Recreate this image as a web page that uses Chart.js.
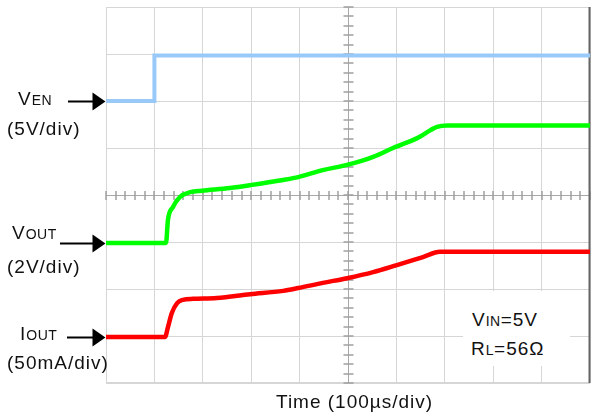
<!DOCTYPE html>
<html><head><meta charset="utf-8">
<script src="https://cdn.jsdelivr.net/npm/chart.js@4/dist/chart.umd.min.js"></script>
<style>
html,body{margin:0;padding:0;background:#fff;}
#wrap{position:relative;width:592px;height:419px;overflow:hidden;}
canvas{position:absolute;left:0;top:0;}
.t{position:absolute;font-family:"Liberation Sans",Arial,sans-serif;font-size:19px;line-height:19px;color:#111;letter-spacing:1px;white-space:nowrap;}
.sc{font-size:14px;letter-spacing:0.5px;}
#note{position:absolute;left:463px;top:291px;width:107px;height:75px;background:#fff;}
</style></head>
<body>
<div id="wrap">
<canvas id="c" width="592" height="419"></canvas>
<div id="note"></div>
<div class="t" style="left:18px;top:89px;">V<span class="sc">EN</span></div>
<div class="t" style="left:7px;top:119px;">(5V/div)</div>
<div class="t" style="left:12px;top:223px;">V<span class="sc">OUT</span></div>
<div class="t" style="left:7px;top:257px;">(2V/div)</div>
<div class="t" style="left:20px;top:324px;">I<span class="sc">OUT</span></div>
<div class="t" style="left:7px;top:353px;">(50mA/div)</div>
<div class="t" style="left:472px;top:310px;">V<span class="sc">IN</span>=5V</div>
<div class="t" style="left:471px;top:339px;">R<span class="sc">L</span>=56Ω</div>
<div class="t" style="left:276px;top:392px;">Time (100µs/div)</div>
</div>
<script>
// Values in scope divisions (x: 0..10 time divisions, y: 0..8 vertical divisions)
const venTime  = [0, 1.0, 1.0, 10];
const venLevel = [6.0, 6.0, 6.97, 6.97];

const voutTime  = [0, 1.24, 1.28, 1.38, 1.53, 1.74, 1.98, 2.56, 2.98, 3.66, 3.97, 4.48, 4.98, 5.52, 5.93, 6.43, 6.84, 7.05, 10];
const voutLevel = [2.98, 2.98, 3.47, 3.74, 3.96, 4.06, 4.09, 4.15, 4.21, 4.32, 4.38, 4.53, 4.64, 4.81, 5.00, 5.21, 5.45, 5.48, 5.48];

const ioutTime  = [0, 1.22, 1.28, 1.36, 1.47, 1.59, 1.80, 2.29, 2.98, 3.66, 3.97, 4.48, 4.98, 5.52, 6.01, 6.55, 6.90, 10];
const ioutLevel = [0.98, 0.98, 1.19, 1.49, 1.70, 1.77, 1.79, 1.81, 1.89, 1.96, 2.02, 2.13, 2.23, 2.36, 2.51, 2.68, 2.79, 2.79];

const markerLevels = [6.0, 2.98, 0.98]; // VEN, VOUT, IOUT reference arrows

const pts = (xs, ys) => xs.map((v, i) => ({x: v, y: ys[i]}));

const crosshair = {
  id: 'crosshair',
  beforeDatasetsDraw(chart) {
    const {ctx, chartArea: a, scales: {x, y}} = chart;
    ctx.save();
    ctx.strokeStyle = '#d6d6d6';
    ctx.lineWidth = 1;
    ctx.strokeRect(a.left + 0.5, a.top + 0.5, a.right - a.left - 1, a.bottom - a.top - 1);
    const cx = Math.round(x.getPixelForValue(5)) + 0.5;
    const cy = Math.round(y.getPixelForValue(4)) + 0.5;
    ctx.strokeStyle = '#a8a8a8';
    ctx.lineWidth = 1;
    ctx.beginPath();
    ctx.moveTo(a.left, cy); ctx.lineTo(a.right, cy);
    ctx.moveTo(cx, a.top); ctx.lineTo(cx, a.bottom);
    ctx.stroke();
    ctx.strokeStyle = '#a0a0a0';
    ctx.lineWidth = 1.5;
    ctx.beginPath();
    for (let i = 0; i <= 50; i++) {
      const px = Math.round(x.getPixelForValue(i / 5));
      ctx.moveTo(px, cy - 4.5); ctx.lineTo(px, cy + 4.5);
    }
    for (let i = 0; i <= 40; i++) {
      const py = Math.round(y.getPixelForValue(i / 5));
      ctx.moveTo(cx - 5, py); ctx.lineTo(cx + 5, py);
    }
    ctx.stroke();
    ctx.strokeStyle = '#666';
    ctx.lineWidth = 2;
    ctx.beginPath();
    ctx.moveTo(a.right - 0.5, a.top); ctx.lineTo(a.right - 0.5, a.bottom);
    ctx.stroke();
    ctx.restore();
  },
  afterDraw(chart) {
    const {ctx, chartArea: a, scales: {y}} = chart;
    ctx.save();
    ctx.fillStyle = '#000';
    ctx.strokeStyle = '#000';
    const starts = [68, 60, 67];
    markerLevels.forEach((lv, i) => {
      const py = Math.round(y.getPixelForValue(lv)) + 0.5;
      const tip = a.left - 0.5;
      ctx.lineWidth = 2;
      ctx.beginPath(); ctx.moveTo(starts[i], py); ctx.lineTo(tip - 12, py); ctx.stroke();
      ctx.beginPath(); ctx.moveTo(tip, py); ctx.lineTo(tip - 13, py - 9); ctx.lineTo(tip - 13, py + 9); ctx.closePath(); ctx.fill();
    });
    ctx.restore();
  }
};

new Chart(document.getElementById('c'), {
  type: 'scatter',
  data: {
    datasets: [
      {label: 'VEN', data: pts(venTime, venLevel), showLine: true, borderColor: '#99c9f9', borderWidth: 4, pointRadius: 0, tension: 0},
      {label: 'VOUT', data: pts(voutTime, voutLevel), showLine: true, borderColor: '#00ff00', borderWidth: 4.5, pointRadius: 0, cubicInterpolationMode: 'monotone'},
      {label: 'IOUT', data: pts(ioutTime, ioutLevel), showLine: true, borderColor: '#ff0000', borderWidth: 4.5, pointRadius: 0, cubicInterpolationMode: 'monotone'}
    ]
  },
  options: {
    responsive: false,
    animation: false,
    events: [],
    layout: {padding: {left: 106, top: 7, right: 2, bottom: 36}},
    plugins: {legend: {display: false}, tooltip: {enabled: false}},
    scales: {
      x: {type: 'linear', min: 0, max: 10, ticks: {display: false, stepSize: 1},
          grid: {color: '#d6d6d6', lineWidth: 1, drawTicks: false}, border: {display: false}},
      y: {type: 'linear', min: 0, max: 8, ticks: {display: false, stepSize: 1},
          grid: {color: '#d6d6d6', lineWidth: 1, drawTicks: false}, border: {display: false}}
    }
  },
  plugins: [crosshair]
});
</script>
</body></html>
